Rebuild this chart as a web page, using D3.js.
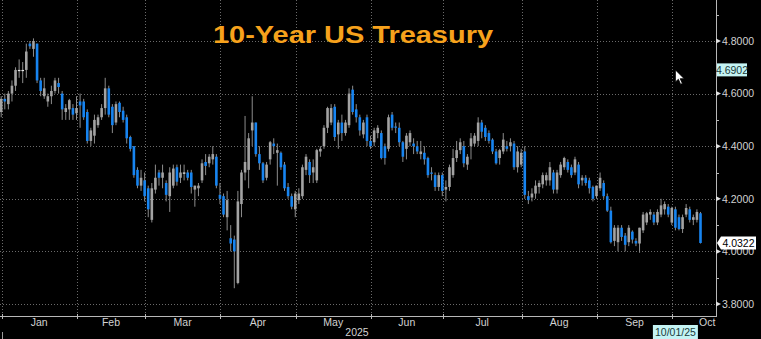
<!DOCTYPE html>
<html><head><meta charset="utf-8">
<script src="https://cdn.jsdelivr.net/npm/d3@7"></script>
<style>html,body{margin:0;padding:0;background:#000;overflow:hidden}svg{display:block}</style>
</head><body><svg id="c" width="761" height="339"></svg>
<script>
const dates = ["2024-12-31","2025-01-02","2025-01-03","2025-01-06","2025-01-07","2025-01-08","2025-01-09","2025-01-10","2025-01-13","2025-01-14","2025-01-15","2025-01-16","2025-01-17","2025-01-21","2025-01-22","2025-01-23","2025-01-24","2025-01-27","2025-01-28","2025-01-29","2025-01-30","2025-01-31",
"2025-02-03","2025-02-04","2025-02-05","2025-02-06","2025-02-07","2025-02-10","2025-02-11","2025-02-12","2025-02-13","2025-02-14","2025-02-18","2025-02-19","2025-02-20","2025-02-21","2025-02-24","2025-02-25","2025-02-26","2025-02-27","2025-02-28",
"2025-03-03","2025-03-04","2025-03-05","2025-03-06","2025-03-07","2025-03-10","2025-03-11","2025-03-12","2025-03-13","2025-03-14","2025-03-17","2025-03-18","2025-03-19","2025-03-20","2025-03-21","2025-03-24","2025-03-25","2025-03-26","2025-03-27","2025-03-28","2025-03-31",
"2025-04-01","2025-04-02","2025-04-03","2025-04-04","2025-04-07","2025-04-08","2025-04-09","2025-04-10","2025-04-11","2025-04-14","2025-04-15","2025-04-16","2025-04-17","2025-04-21","2025-04-22","2025-04-23","2025-04-24","2025-04-25","2025-04-28","2025-04-29","2025-04-30",
"2025-05-01","2025-05-02","2025-05-05","2025-05-06","2025-05-07","2025-05-08","2025-05-09","2025-05-12","2025-05-13","2025-05-14","2025-05-15","2025-05-16","2025-05-19","2025-05-20","2025-05-21","2025-05-22","2025-05-23","2025-05-27","2025-05-28","2025-05-29","2025-05-30",
"2025-06-02","2025-06-03","2025-06-04","2025-06-05","2025-06-06","2025-06-09","2025-06-10","2025-06-11","2025-06-12","2025-06-13","2025-06-16","2025-06-17","2025-06-18","2025-06-20","2025-06-23","2025-06-24","2025-06-25","2025-06-26","2025-06-27","2025-06-30",
"2025-07-01","2025-07-02","2025-07-03","2025-07-07","2025-07-08","2025-07-09","2025-07-10","2025-07-11","2025-07-14","2025-07-15","2025-07-16","2025-07-17","2025-07-18","2025-07-21","2025-07-22","2025-07-23","2025-07-24","2025-07-25","2025-07-28","2025-07-29","2025-07-30","2025-07-31",
"2025-08-01","2025-08-04","2025-08-05","2025-08-06","2025-08-07","2025-08-08","2025-08-11","2025-08-12","2025-08-13","2025-08-14","2025-08-15","2025-08-18","2025-08-19","2025-08-20","2025-08-21","2025-08-22","2025-08-25","2025-08-26","2025-08-27","2025-08-28","2025-08-29",
"2025-09-02","2025-09-03","2025-09-04","2025-09-05","2025-09-08","2025-09-09","2025-09-10","2025-09-11","2025-09-12","2025-09-15","2025-09-16","2025-09-17","2025-09-18","2025-09-19","2025-09-22","2025-09-23","2025-09-24","2025-09-25","2025-09-26","2025-09-29","2025-09-30",
"2025-10-01","2025-10-02","2025-10-03","2025-10-06","2025-10-07","2025-10-08","2025-10-09","2025-10-10"];

const open = [4.53,4.58,4.56,4.60,4.63,4.69,4.69,4.69,4.79,4.77,4.79,4.65,4.59,4.57,4.59,4.61,4.64,4.60,4.53,4.54,4.545,4.525,
4.57,4.57,4.53,4.42,4.44,4.48,4.51,4.545,4.62,4.55,4.49,4.565,4.535,4.51,4.435,4.40,4.31,4.25,4.27,
4.24,4.12,4.235,4.30,4.28,4.26,4.21,4.25,4.32,4.28,4.30,4.30,4.30,4.235,4.24,4.27,4.34,4.335,4.35,4.36,4.215,
4.21,4.13,4.05,4.045,3.88,4.18,4.30,4.31,4.46,4.49,4.37,4.335,4.28,4.35,4.41,4.375,4.375,4.33,4.245,4.21,4.16,
4.195,4.21,4.31,4.34,4.30,4.27,4.38,4.40,4.47,4.49,4.55,4.445,4.49,4.45,4.48,4.615,4.54,4.51,4.445,4.51,4.42,
4.415,4.45,4.45,4.40,4.39,4.52,4.475,4.47,4.415,4.39,4.415,4.41,4.40,4.37,4.375,4.355,4.30,4.29,4.245,4.29,
4.235,4.245,4.29,4.355,4.385,4.40,4.33,4.40,4.41,4.42,4.49,4.47,4.45,4.425,4.38,4.355,4.38,4.40,4.40,4.41,4.32,4.33,
4.38,4.21,4.205,4.22,4.245,4.255,4.27,4.27,4.30,4.235,4.29,4.32,4.34,4.32,4.30,4.33,4.27,4.28,4.27,4.245,4.21,
4.24,4.26,4.21,4.155,4.04,4.035,4.09,4.06,4.035,4.075,4.04,4.03,4.08,4.11,4.14,4.14,4.11,4.14,4.16,4.17,4.11,
4.16,4.13,4.085,4.14,4.16,4.12,4.12,4.145];

const high = [4.59,4.60,4.61,4.65,4.70,4.73,4.72,4.79,4.80,4.81,4.79,4.66,4.66,4.60,4.63,4.66,4.66,4.61,4.56,4.58,4.56,4.59,
4.60,4.58,4.54,4.47,4.52,4.52,4.56,4.66,4.63,4.56,4.57,4.57,4.55,4.52,4.44,4.40,4.32,4.31,4.30,
4.25,4.26,4.33,4.31,4.33,4.27,4.32,4.33,4.33,4.33,4.33,4.31,4.31,4.25,4.26,4.35,4.37,4.37,4.40,4.37,4.26,
4.22,4.23,4.10,4.06,4.23,4.31,4.515,4.45,4.59,4.49,4.40,4.34,4.34,4.42,4.43,4.41,4.38,4.34,4.26,4.22,4.23,
4.24,4.33,4.37,4.35,4.35,4.39,4.40,4.48,4.55,4.56,4.56,4.50,4.52,4.50,4.62,4.63,4.56,4.52,4.50,4.52,4.44,
4.47,4.48,4.46,4.41,4.52,4.53,4.49,4.49,4.42,4.45,4.46,4.43,4.42,4.42,4.40,4.36,4.32,4.30,4.30,4.30,
4.27,4.33,4.39,4.42,4.43,4.42,4.37,4.45,4.45,4.51,4.50,4.48,4.46,4.43,4.39,4.39,4.45,4.42,4.43,4.42,4.40,4.39,
4.40,4.23,4.24,4.27,4.27,4.30,4.30,4.34,4.31,4.31,4.34,4.36,4.35,4.33,4.36,4.34,4.29,4.29,4.28,4.25,4.25,
4.30,4.27,4.22,4.17,4.10,4.10,4.10,4.07,4.10,4.08,4.05,4.09,4.15,4.15,4.16,4.15,4.16,4.20,4.19,4.18,4.17,
4.17,4.14,4.14,4.18,4.17,4.14,4.16,4.15];

const low = [4.51,4.54,4.54,4.57,4.61,4.66,4.64,4.66,4.77,4.74,4.64,4.59,4.58,4.55,4.56,4.60,4.60,4.50,4.50,4.50,4.50,4.50,
4.47,4.50,4.41,4.40,4.41,4.47,4.50,4.52,4.51,4.45,4.48,4.51,4.49,4.41,4.38,4.28,4.24,4.23,4.19,
4.13,4.11,4.22,4.25,4.24,4.19,4.15,4.24,4.25,4.26,4.27,4.27,4.22,4.17,4.21,4.26,4.29,4.32,4.33,4.24,4.18,
4.13,4.08,4.00,3.86,3.875,4.13,4.27,4.24,4.40,4.36,4.31,4.26,4.27,4.33,4.37,4.25,4.31,4.23,4.20,4.16,4.13,
4.18,4.20,4.29,4.26,4.26,4.26,4.36,4.39,4.45,4.48,4.42,4.39,4.42,4.44,4.47,4.52,4.49,4.44,4.43,4.40,4.39,
4.40,4.43,4.35,4.33,4.38,4.46,4.45,4.40,4.34,4.35,4.40,4.37,4.37,4.35,4.33,4.28,4.27,4.23,4.23,4.21,
4.19,4.23,4.28,4.34,4.37,4.32,4.31,4.35,4.40,4.40,4.43,4.42,4.41,4.37,4.33,4.33,4.37,4.38,4.38,4.31,4.30,4.32,
4.20,4.18,4.19,4.20,4.22,4.24,4.25,4.25,4.22,4.22,4.28,4.31,4.30,4.28,4.29,4.24,4.25,4.25,4.22,4.19,4.20,
4.23,4.20,4.15,4.03,4.02,4.00,4.04,4.00,4.02,4.03,4.02,3.995,4.07,4.10,4.12,4.10,4.10,4.13,4.14,4.13,4.10,
4.08,4.08,4.07,4.13,4.11,4.10,4.11,4.03];

const close = [4.58,4.57,4.60,4.63,4.69,4.69,4.69,4.76,4.78,4.80,4.65,4.61,4.62,4.59,4.61,4.65,4.625,4.54,4.545,4.575,4.52,4.545,
4.555,4.51,4.42,4.46,4.50,4.51,4.545,4.62,4.52,4.48,4.56,4.53,4.50,4.43,4.39,4.29,4.25,4.28,4.21,
4.16,4.24,4.28,4.28,4.30,4.215,4.30,4.315,4.265,4.30,4.30,4.28,4.245,4.25,4.25,4.335,4.325,4.36,4.37,4.25,4.20,
4.14,4.195,4.03,4.00,4.19,4.30,4.34,4.43,4.49,4.37,4.335,4.27,4.33,4.415,4.40,4.385,4.32,4.24,4.21,4.17,4.22,
4.22,4.32,4.36,4.29,4.32,4.385,4.39,4.47,4.545,4.545,4.435,4.49,4.45,4.49,4.60,4.53,4.51,4.46,4.49,4.42,4.40,
4.46,4.47,4.355,4.355,4.51,4.47,4.47,4.415,4.36,4.44,4.45,4.40,4.38,4.38,4.35,4.29,4.295,4.245,4.29,4.23,
4.245,4.32,4.355,4.385,4.415,4.335,4.36,4.43,4.44,4.49,4.455,4.435,4.42,4.38,4.335,4.385,4.425,4.39,4.415,4.32,4.38,4.375,
4.215,4.195,4.22,4.25,4.26,4.29,4.29,4.32,4.235,4.30,4.33,4.355,4.31,4.29,4.35,4.255,4.28,4.26,4.24,4.20,4.25,
4.28,4.21,4.155,4.035,4.09,4.09,4.055,4.025,4.09,4.045,4.03,4.09,4.14,4.145,4.15,4.11,4.15,4.175,4.18,4.14,4.165,
4.09,4.085,4.13,4.165,4.12,4.13,4.15,4.032];

const monthNames = ["Jan","Feb","Mar","Apr","May","Jun","Jul","Aug","Sep","Oct"];
const yTicks = [3.8, 4.0, 4.2, 4.4, 4.6, 4.8];
const yMinorTicks = [3.9, 4.1, 4.3, 4.5, 4.7, 4.9];
const titleText = "10-Year US Treasury";
const yearText = "2025";
const lastValue = 4.0322;
const cursorValue = 4.6902;
const cursorDate = "2025-10-01";
const cursorDateText = "10/01/25";

const W = 761, H = 339, plotR = 716, plotB = 316;
const svg = d3.select("#c");
svg.append("rect").attr("width", W).attr("height", H).attr("fill", "#000");

const n = dates.length;
const x = d3.scaleLinear().domain([0, n - 1]).range([1.2, 700.5]);
const y = d3.scaleLinear().domain([3.8, 4.8]).range([304, 41]);
const step = x(1) - x(0);

svg.append("defs").append("clipPath").attr("id", "clip")
  .append("rect").attr("x", 0).attr("y", 0).attr("width", plotR).attr("height", plotB);

// month boundaries (first trading day of each month)
const monthStarts = [];
dates.forEach((d, i) => {
  if (i > 0 && d.slice(5, 7) !== dates[i - 1].slice(5, 7)) monthStarts.push(i);
});
const gridX = monthStarts.map(i => x(i) - 0.9 * step);

const grid = svg.append("g");
// horizontal dotted gridlines
grid.selectAll("line.h").data(yTicks).join("line")
  .attr("x1", 0).attr("x2", plotR)
  .attr("y1", d => Math.round(y(d)) + 0.5).attr("y2", d => Math.round(y(d)) + 0.5)
  .attr("stroke", "#6a6a6a").attr("stroke-width", 1).attr("stroke-dasharray", "1,2");
// vertical dotted gridlines
grid.selectAll("line.v").data(gridX).join("line")
  .attr("x1", d => Math.round(d) + 0.5).attr("x2", d => Math.round(d) + 0.5)
  .attr("y1", 0).attr("y2", plotB)
  .attr("stroke", "#6a6a6a").attr("stroke-width", 1).attr("stroke-dasharray", "1,2");

// title
const title = svg.append("text").attr("x", 353).attr("y", 43)
  .attr("text-anchor", "middle").attr("fill", "#f7a21c")
  .attr("font-family", "Liberation Sans, Arial, sans-serif").attr("font-weight", "bold")
  .attr("font-size", 23).text(titleText);
title.attr("textLength", 280).attr("lengthAdjust", "spacingAndGlyphs");

// candles
const bars = svg.append("g").attr("clip-path", "url(#clip)");
const data = dates.map((d, i) => ({ i, o: open[i], h: high[i], l: low[i], c: close[i] }));
bars.selectAll("line.wick").data(data).join("line")
  .attr("x1", d => x(d.i)).attr("x2", d => x(d.i))
  .attr("y1", d => y(d.h)).attr("y2", d => y(d.l))
  .attr("stroke", "#8c8c8c").attr("stroke-width", 1);
const bw = 2.6;
bars.selectAll("rect.body").data(data).join("rect")
  .attr("x", d => x(d.i) - bw / 2)
  .attr("y", d => y(Math.max(d.o, d.c)))
  .attr("width", bw)
  .attr("height", d => Math.max(1.2, Math.abs(y(d.o) - y(d.c))))
  .attr("fill", d => Math.abs(d.o - d.c) < 0.004 ? "#e8e8e8" : (d.c >= d.o ? "#a3a3a3" : "#1784f0"));

// right axis
const axisColor = "#b8b8b8";
svg.append("line").attr("x1", plotR + 0.5).attr("x2", plotR + 0.5).attr("y1", 0).attr("y2", plotB + 1)
  .attr("stroke", axisColor).attr("stroke-width", 1);
const ya = svg.append("g").attr("transform", `translate(${plotR},0)`)
  .call(d3.axisRight(y).tickValues(yTicks).tickFormat(d3.format(".4f")).tickSize(0).tickPadding(6));
ya.select(".domain").remove();
ya.selectAll("text").attr("fill", "#d2d2d2").attr("font-size", 10.5)
  .attr("font-family", "Liberation Sans, Arial, sans-serif");
svg.append("g").selectAll("path").data(yTicks).join("path")
  .attr("d", d => { const yy = y(d); return `M${plotR},${yy - 2.5}L${plotR + 5},${yy}L${plotR},${yy + 2.5}Z`; })
  .attr("fill", "#e0e0e0");
svg.append("g").selectAll("line").data(yMinorTicks).join("line")
  .attr("x1", plotR).attr("x2", plotR + 3)
  .attr("y1", d => Math.round(y(d)) + 0.5).attr("y2", d => Math.round(y(d)) + 0.5)
  .attr("stroke", axisColor);

// bottom axis
svg.append("line").attr("x1", 0).attr("x2", plotR + 1).attr("y1", plotB + 0.5).attr("y2", plotB + 0.5)
  .attr("stroke", axisColor).attr("stroke-width", 1);
svg.append("g").selectAll("line").data(gridX).join("line")
  .attr("x1", d => Math.round(d) + 0.5).attr("x2", d => Math.round(d) + 0.5)
  .attr("y1", plotB - 2).attr("y2", plotB + 3)
  .attr("stroke", axisColor);
const labelX = gridX.map((g, k) => k < gridX.length - 1 ? (g + gridX[k + 1]) / 2 : g + 35);
svg.append("g").selectAll("text").data(monthNames).join("text")
  .attr("x", (d, k) => labelX[k]).attr("y", 326)
  .attr("text-anchor", "middle").attr("fill", "#d2d2d2").attr("font-size", 10.5)
  .attr("font-family", "Liberation Sans, Arial, sans-serif").text(d => d);
svg.append("text").attr("x", 357).attr("y", 336).attr("text-anchor", "middle")
  .attr("fill", "#d2d2d2").attr("font-size", 10.5)
  .attr("font-family", "Liberation Sans, Arial, sans-serif").text(yearText);
svg.append("line").attr("x1", 2.5).attr("x2", 2.5).attr("y1", 332).attr("y2", 339).attr("stroke", "#9a9a9a");

// last value label
const ly = y(lastValue);
svg.append("path")
  .attr("d", `M${plotR + 1},${ly}L${plotR + 5},${ly - 6.5}L${plotR + 40},${ly - 6.5}L${plotR + 40},${ly + 6.5}L${plotR + 5},${ly + 6.5}Z`)
  .attr("fill", "#ffffff");
svg.append("text").attr("x", plotR + 22.5).attr("y", ly + 4).attr("text-anchor", "middle")
  .attr("fill", "#000").attr("font-size", 10.5).attr("font-family", "Liberation Sans, Arial, sans-serif")
  .text(d3.format(".4f")(lastValue));

// cursor value label
const cy = y(cursorValue);
svg.append("rect").attr("x", plotR + 1).attr("y", cy - 6.5).attr("width", 30).attr("height", 13).attr("fill", "#c4f4f4");
svg.append("text").attr("x", plotR + 16).attr("y", cy + 4).attr("text-anchor", "middle")
  .attr("fill", "#1a3a3a").attr("font-size", 10.5).attr("font-family", "Liberation Sans, Arial, sans-serif")
  .text(d3.format(".4f")(cursorValue));

// cursor date label
const ci = dates.indexOf(cursorDate);
const cx = x(ci);
svg.append("rect").attr("x", cx - 22.5).attr("y", 325).attr("width", 45).attr("height", 14).attr("fill", "#c4f4f4");
svg.append("text").attr("x", cx).attr("y", 336).attr("text-anchor", "middle")
  .attr("fill", "#1a3a3a").attr("font-size", 10.5).attr("font-family", "Liberation Sans, Arial, sans-serif")
  .text(cursorDateText);

// mouse pointer
svg.append("path")
  .attr("d", `M${cx},${cy}l0,12l3,-2.6l2.2,5l1.8,-0.8l-2.2,-4.8l4,0Z`)
  .attr("fill", "#fff").attr("stroke", "#000").attr("stroke-width", 0.8);
</script>
</body></html>
